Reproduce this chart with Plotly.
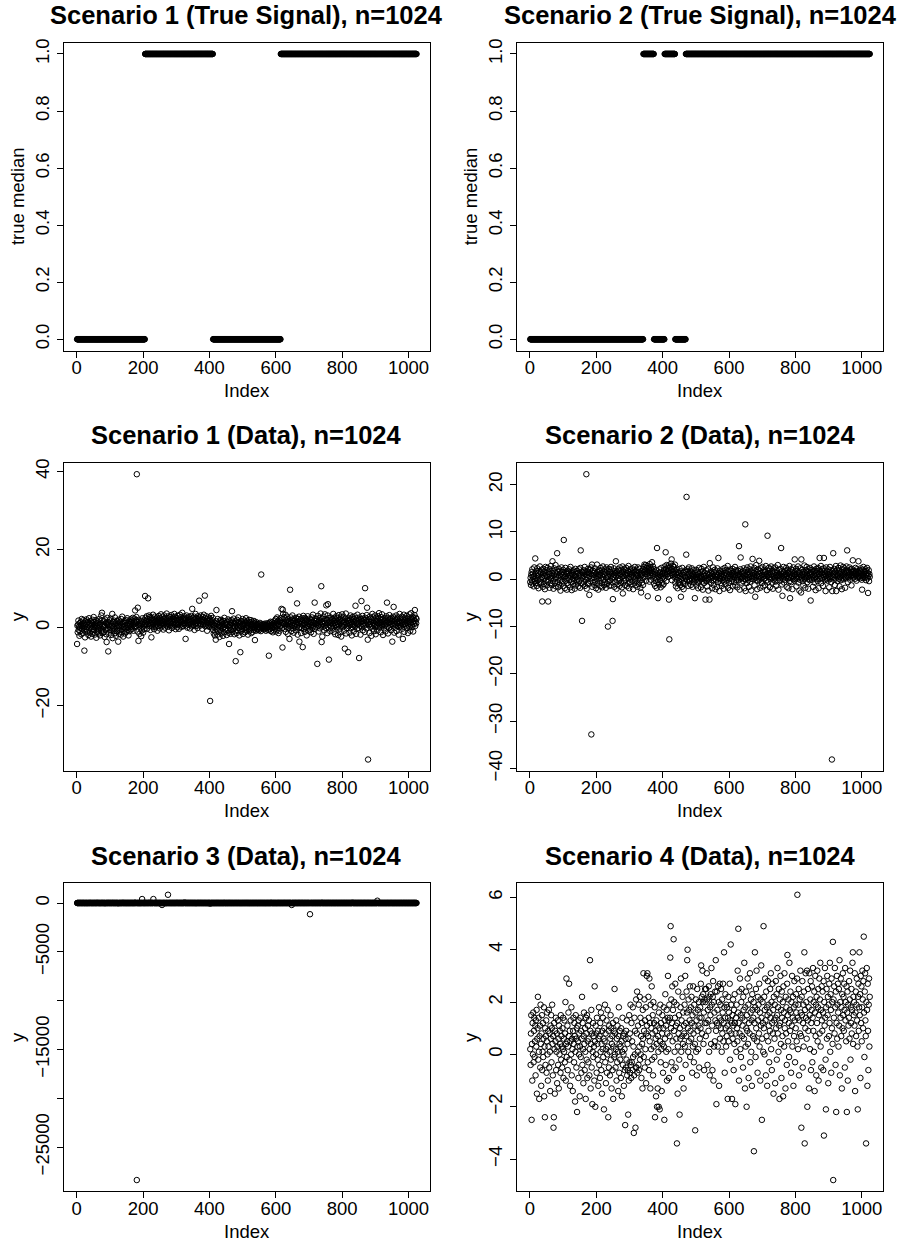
import plotly.graph_objects as go

# 1024 observations per scenario; signals given as run-length segments (level, last index)
n_obs = 1024
signal1_levels = [0, 1, 0, 1]
signal1_ends = [205, 410, 614, 1024]
signal2_levels = [0, 1, 0, 1, 0, 1]
signal2_ends = [341, 373, 405, 437, 469, 1024]

# Scenario 1 data, in tenths
data1_tenths = [
    -42, 5, -12, 8, 18, -6, 3, -21, 11, 0, -9, 14, 6, -17, 22, -3,
    9, -14, 4, 19, -7, 12, -59, 2, -25, 16, 7, -4, 21, -11, 1, 13,
    -8, 15, -19, 6, 24, -2, 10, -13, 3, 17, -23, 8, -5, 12, -16, 20,
    2, -10, 27, -6, 14, -18, 5, 9, -1, 19, -26, 11, 4, -12, 16, -7,
    13, -3, -15, 22, 7, -20, 0, 10, -9, 31, 18, 38, -4, -14, 6, 2,
    -11, 16, 8, -24, 21, 3, -6, 12, -17, -37, 9, 25, -2, 14, -61, 5,
    7, -13, 19, -5, 1, 23, -19, 11, -8, 4, 35, -27, 15, 0, -10, 18,
    -4, 10, 26, -14, 6, -21, 13, 2, -9, 17, -1, 8, -36, 20, -16, 4,
    11, -7, 15, 3, -18, 22, -12, 6, 28, -3, 9, -23, 14, 1, -8, 17,
    -15, 5, 12, -2, 19, -11, 7, 24, -6, 0, 13, -20, 3, 16, -9, 10,
    8, 21, -5, 14, 2, 18, -3, 11, 25, 6, -8, 16, 9, 23, 1, 44,
    12, 19, 4, 27, 393, 15, -10, 51, 7, -34, 20, 3, -16, 9, 13, -2,
    6, -22, 17, 10, -7, 24, 1, -13, 14, 5, -4, 19, 8, 81, 25, 11,
    18, 7, 29, -3, 14, 22, 75, 9, 16, 31, 4, 12, 27, -6, 19, 10,
    -25, 15, 24, 2, 11, 33, 8, 20, -4, 13, 28, 6, 17, 1, 23, 12,
    9, 26, -8, 14, 21, 4, 30, 11, 18, -2, 25, 7, 15, 34, 10, 19,
    3, 16, 28, 12, -5, 22, 8, 31, 14, 0, 19, 25, 6, 13, 36, 9,
    17, 2, 24, 11, 29, -7, 15, 20, 5, 27, 13, 8, 32, 18, -1, 22,
    10, 26, 14, 3, 21, 35, 7, 16, 28, -4, 12, 24, 9, 19, 1, 30,
    15, 8, 23, -3, 18, 11, 33, 6, 20, 14, 27, 2, 16, 38, 10, 22,
    4, 19, 12, 29, 8, 24, 16, -29, 21, 5, 31, 13, 0, 18, 26, 11,
    20, 7, 15, 27, -2, 13, 22, 9, 30, 17, 3, 48, 12, 25, 6, 19,
    14, 28, -6, 21, 10, 35, 16, 4, 24, 12, 19, -1, 29, 8, 17, 23,
    69, 11, 26, 5, 18, 31, 9, 22, 14, -3, 20, 27, 7, 16, 33, 12,
    19, 82, 3, 24, 15, 8, 29, 13, -8, 21, 17, 6, 26, 11, 2, 18,
    23, -188, 14, 7, 30, 16, 1, 19, 10, 25, -6, 8, -15, 3, 12, -20,
    5, -11, -31, 16, 45, -4, 9, -18, 22, 0, -9, 13, 6, -24, 18, 2,
    -7, 11, 20, -15, 4, 14, -2, 8, -21, 17, 1, -12, 25, 7, -5, 10,
    12, -3, 6, -19, 15, 9, -8, 21, 3, -13, -42, 18, 0, 7, -16, 13,
    -6, 10, 19, 42, -11, 4, 15, -2, 23, 8, -17, 12, 1, -9, -86, 16,
    6, -14, 20, 3, -7, 11, 26, -1, 14, -20, 9, 5, -63, 17, -10, 2,
    13, -5, 8, 22, -16, 4, 10, -3, 18, 7, -12, 15, 0, 24, -8, 11,
    -2, 16, 6, -18, 12, 3, 20, -9, 9, 14, -4, 1, 19, -14, 7, 10,
    5, -11, 13, 2, -6, 17, 8, -1, -32, 11, 4, -8, 14, 0, 9, -5,
    6, -3, 10, 2, -7, 8, 1, 12, -4, 5, -9, 136, 3, 7, -2, 9,
    -1, 4, 8, -5, 2, 10, -3, 6, 0, -8, 7, 3, 11, -2, 5, 1,
    -6, 9, -72, 2, 12, -4, 6, 15, -9, 3, 8, -1, 14, 5, -12, 10,
    4, -7, 11, 1, 18, -3, 7, 22, -10, 13, 5, 26, -5, 16, 9, -14,
    8, 20, -8, 14, 3, 17, 24, 6, 48, 12, -1, -51, 46, 35, 9, 27,
    10, -3, 24, 5, 33, -11, 13, 18, 2, 28, 7, -16, 21, 11, -1, 16,
    -29, 9, 97, 3, 26, 14, -9, 20, 6, 31, -2, 12, 17, -13, 23, 8,
    4, 19, 11, -7, 25, 1, 15, 62, 7, -18, 22, 13, -1, 28, -36, 10,
    16, 2, 21, -14, 9, 24, -2, 13, -50, 6, 30, 18, -4, 11, -11, 25,
    7, 22, 0, 14, -20, 19, 4, 29, 10, -8, 17, 3, 23, 8, -5, 15,
    12, -12, 20, 6, 26, -1, 14, 33, 3, -16, 18, 9, 64, -3, 24, 11,
    1, 17, 8, 22, -93, 13, 30, 4, -10, 19, 10, 25, -2, 15, 36, 6,
    106, -37, 14, -23, 23, 9, 2, 28, 17, -7, 12, 34, 5, 21, -1, 57,
    8, 20, -14, 31, 60, 13, 0, -82, 24, 7, 16, -9, 26, 11, 3, 19,
    14, -2, 22, 9, 35, -11, 17, 4, 25, 12, -17, 20, 6, 29, 1, 15,
    10, 24, 3, -19, 18, 32, 7, -3, 21, 13, -12, 26, -23, 16, 5, 34,
    2, 19, 11, 28, -8, 15, 6, -54, 23, 8, 36, -15, 13, -1, 21, 9,
    17, -63, 4, 25, 12, -13, 20, 7, 31, -2, 14, 23, -20, 9, 27, 1,
    6, 22, -10, 15, 10, 29, 3, 56, 18, -16, 12, 24, -3, 33, 8, 16,
    11, -1, -78, 20, 26, 5, -18, 14, 22, 68, 1, 17, 30, -7, 9, 23,
    4, 19, 13, -11, 101, 25, 8, 16, -2, 32, 51, 10, -31, -338, 21, 6,
    15, -14, 28, 9, 2, 23, 14, -21, 20, 5, 35, -3, 12, 26, 7, -9,
    18, 10, 31, 1, -17, 16, 24, 6, 13, -8, 22, 29, 3, 11, 37, 8,
    0, 21, 12, -12, 27, 7, 19, 34, 4, 14, -19, 23, 9, -2, 17, 25,
    6, -10, 20, 11, 29, 15, 64, 3, 24, -15, 13, 18, -1, 32, 8, 22,
    14, 2, -7, 25, 9, 17, -36, 21, 5, 28, 53, 10, -13, 16, 23, 0,
    19, 7, 31, -9, 13, 22, 4, 26, 10, -18, 17, 1, 35, 12, 6, 24,
    3, 18, 11, 28, -3, 15, -29, 21, 7, 33, -11, 14, 25, 9, 20, 5,
    12, 30, -1, 17, 23, -14, 8, 26, 15, 2, 34, 10, -8, 19, 13, 37,
    6, 21, 1, 28, 14, -10, 24, 9, 18, 32, 45, 4, 16, 25, 11, 22,
]

# Scenario 2 data, in tenths
data2_tenths = [
    -6, 3, -12, 9, 15, -3, 21, -9, 5, 12, -15, 7, 25, 0, -4, 44,
    11, -8, 18, 2, -14, 23, 6, -2, 13, -19, 8, 17, -5, 27, 1, -11,
    14, -7, 20, 4, -47, 10, -16, 22, 3, -10, 16, 7, -21, 12, 26, -3,
    8, 19, -13, 5, 24, -6, -47, 15, -1, 11, -18, 21, 6, -9, 28, 2,
    -12, 13, 7, 38, -4, 17, -20, 9, 23, 1, -8, 14, 30, -15, 5, 19,
    10, 55, -6, 16, -17, 3, 22, -11, 8, 18, -2, -24, 12, 6, 25, -9,
    15, -5, 9, 20, -14, 83, 4, 12, -19, 7, 24, -3, 16, 1, -22, 11,
    -8, 18, 3, -12, 14, 21, -1, 8, -17, 26, 6, -6, 13, -23, 10, 17,
    2, -10, 19, 9, -4, 15, -20, 7, 22, -13, 4, 12, -2, 18, -7, 0,
    13, -15, 6, 21, -3, 10, -18, 24, 61, 8, -9, 16, -88, 3, 14, -11,
    7, 19, -6, 12, 26, -14, 4, 17, -1, 222, -20, 9, 15, -8, 22, 3,
    -10, 14, -33, 6, 20, -4, 11, 25, -328, 2, 31, -16, 9, 18, -7, 13,
    4, -12, 16, 23, -5, 8, -19, 12, 1, 31, -9, 15, 6, -22, 19, 10,
    -3, 17, 9, -15, 24, 2, 13, -8, 20, -17, 6, 27, -1, 11, -12, 16,
    8, -6, 21, 14, -18, 3, 25, -10, 10, 18, -100, 5, -4, 22, -14, 12,
    15, -2, 7, 26, -13, 19, 1, -7, -88, -42, 12, 4, 23, -16, 9, 17,
    -5, 13, 38, 6, -20, 16, 10, -11, 21, 2, -3, 18, 8, -14, 25, 0,
    11, -8, 20, 5, -17, 14, 27, -30, 7, 16, -4, 22, 3, -12, 10, 19,
    -1, 24, 9, -15, 13, 6, 18, -9, 28, 2, -19, 15, 11, -6, 21, 4,
    16, -11, 8, 23, -3, 12, -21, 19, 5, 14, -7, 26, 1, -13, 17, 9,
    -4, 20, 12, -16, 7, 25, 3, -10, 15, 22, -2, 10, -18, 6, -28, 13,
    9, -7, 18, 2, -12, 21, 14, 26, 31, 5, 19, 12, 30, -3, 17, 24,
    11, 28, -36, 15, 6, 23, 19, -5, 32, 13, 8, 25, -1, 20, 14, 36,
    18, 7, 27, 12, 22, -9, 4, 16, -14, 10, -3, 19, 2, -18, 66, 8,
    -6, -40, 13, 5, -11, 21, 9, -2, 15, -17, 7, 24, -8, 11, 3, -13,
    6, 14, -10, 19, 2, 27, 13, 8, 57, 21, -4, 30, 16, 11, 24, 5,
    18, 29, -43, -127, 12, 25, 7, 20, 33, 14, 42, -2, 22, 9, 28, 16,
    11, 26, 19, 4, 31, -7, 12, -15, 6, 20, -1, 9, -19, 15, 3, -9,
    13, -5, 22, 7, -12, 17, -37, 1, 10, -16, 24, 4, -8, 14, -21, 8,
    -3, 16, -10, 5, 19, 2, 52, 174, 16, -2, 21, 5, -14, 12, 25, 0,
    10, -4, 18, 3, -12, 14, 7, 23, -1, -16, 11, 4, 19, -7, 8, 1,
    -40, 13, -2, 5, 20, -13, 9, 2, 16, -6, -19, 11, 6, 24, -3, 3,
    15, 0, -17, 8, 22, 4, -5, 17, -22, 10, 1, 26, -8, 6, 13, -1,
    -43, 7, 19, -4, 3, -15, 12, 0, 21, -24, 9, -2, -43, 34, 5, 14,
    2, -7, 17, 8, -19, 11, 4, 25, -3, -12, 15, 1, 20, 6, -21, 10,
    -1, 16, 5, -16, 23, -6, 9, 45, 3, 12, -25, 18, 0, 7, -8, 14,
    6, -14, 11, 21, -2, 4, 17, -20, 9, -5, 24, 2, 14, -11, 8, 19,
    -3, 12, 3, 28, -18, 7, 15, -7, 20, 1, -23, 10, 5, 18, -4, 9,
    13, 0, 22, -15, 6, 16, -6, 11, 4, 26, -13, 8, 19, -1, 14, 2,
    -17, 9, 18, 5, -2, 70, 12, -22, 7, 21, 46, 1, -7, 15, 4, 10,
    3, 17, -4, 23, 8, -19, 14, 0, 116, -25, 20, 6, 11, -8, 25, 2,
    9, -2, 16, -16, 4, 21, 12, -5, 27, 6, -24, 14, 1, 19, 43, 8,
    0, 13, 5, 24, -13, 10, -37, 17, 3, 30, -2, 8, -21, 15, 21, -4,
    12, 4, 39, -1, 18, -18, 7, 23, 2, 14, -8, 9, 26, 5, -15, 16,
    1, 20, 8, -12, 15, 3, 28, -3, 11, -23, 6, 92, 18, -6, 9, 24,
    5, 14, -17, 21, 0, 10, 27, 4, -7, 17, 8, -20, 12, 23, -1, 6,
    16, 2, 25, -5, 9, -14, 19, 5, 13, -2, 30, 7, -22, 11, 20, 3,
    8, -3, 22, 14, 66, 4, 17, -11, -35, 10, 1, 26, 6, -7, 15, 9,
    -1, 18, 5, 24, 11, -16, 7, 20, 2, 13, -19, 16, 4, 28, -4, -40,
    10, 3, 21, -6, 14, 7, -21, 19, 0, 25, 6, 12, -3, 42, 9, 17,
    4, 22, -15, 11, 1, 18, 8, 27, -7, 15, 5, -24, 13, -1, 23, 6,
    -28, 42, 9, 2, 20, -4, 16, -13, 11, 5, 29, 0, 14, -18, 7, 19,
    3, 26, 10, -6, 17, 6, -20, 21, 1, 13, -2, 24, 8, -45, 15, 4,
    12, -1, 20, 7, -16, 16, 2, 27, 9, -7, 18, 5, -23, 14, 22, 0,
    8, 17, -4, 24, 4, -19, 11, 19, 45, 1, 15, 6, 28, -8, 10, 21,
    2, 14, -14, 9, 23, 45, 5, -2, 18, 11, -25, 7, 25, 0, 16, 3,
    10, -3, 21, 6, 15, -17, 4, 26, 1, 12, 19, -6, 8, -381, -25, 17,
    5, 55, 13, -1, 22, 8, -12, 16, 2, 28, -25, 11, 6, 20, -4, 14,
    9, 24, 1, 17, -15, 12, 4, 29, -2, 15, 7, -21, 21, 3, 10, 26,
    0, 16, 8, 23, 12, -18, 5, 19, 2, 27, 14, 61, 6, -6, 18, 9,
    13, 4, 25, 11, -1, 20, 7, 16, -13, 22, 8, 14, 40, 3, 17, 10,
    18, 6, 12, 1, 24, 9, 15, -3, 21, 10, 4, 17, 8, 38, 13, 5,
    11, 19, 2, 16, 23, 7, 14, -1, -22, 20, 9, 3, 26, 12, 6, 17,
    15, 4, 21, 10, -2, 17, 8, 24, 2, 13, -29, 7, 19, -4, 11, 5,
]

# Scenario 3 data, in original units (heavy-tailed)
data3 = [
    0, 2, -1, 1, 3, 0, -2, 1, 0, 4, -1, 2, 1, -3, 0, 1,
    1, -1, 0, 6, 2, -2, 1, 0, -4, 1, 3, 0, -1, 2, 1, -8,
    0, 1, 3, -1, 0, 2, -2, 1, 11, 0, -1, 2, 1, -1, 0, 3,
    -2, 0, 1, 2, -1, 5, 0, 1, -3, 2, 0, -1, 1, 14, -2, 0,
    1, 3, 0, -1, 2, 0, -6, 1, 2, -1, 0, 4, 1, 0, -2, 1,
    0, -1, 2, 1, 0, -18, 1, 3, -1, 0, 2, 1, -2, 0, 7, 1,
    2, 0, -1, 1, 3, 0, 1, -2, 0, 2, -1, 9, 1, 0, -1, 2,
    -1, 1, 0, 2, -3, 1, 0, 4, 1, -1, 0, 2, -25, 1, 0, -1,
    1, 0, 2, -1, 1, 0, 3, -2, 0, 1, 16, 0, -1, 2, 1, 0,
    0, 2, -1, 1, 0, -4, 1, 2, 0, -1, 1, 3, 0, -2, 1, 0,
    1, -1, 0, 5, 2, 0, -1, 1, 0, 2, -3, 1, 0, 1, -1, 31,
    0, 2, -1, 1, -28378, 0, 3, -2, 1, 0, -1, 2, 0, 1, -5, 1,
    0, 1, 2, -1, 405, 0, 1, -2, 3, 1, 0, -1, 2, 0, 1, 2,
    1, 2, 0, 3, 1, -1, 2, 1, 0, 22, 1, 2, -1, 1, 0, 3,
    2, 0, 1, -1, 2, 1, 405, 0, 3, 1, -2, 1, 2, 0, 1, -6,
    1, 3, 0, 2, 1, -1, 2, 0, 1, 4, 1, 0, 2, -1, 1, 2,
    -203, 1, 0, 2, 1, 3, -1, 1, 2, 0, 1, -12, 2, 1, 0, 1,
    2, 0, 845, 1, -1, 2, 1, 0, 3, 1, 2, -1, 1, 0, 2, 1,
    0, 1, 2, -2, 1, 0, 2, 1, -1, 3, 1, 0, 2, 8, 1, 0,
    1, 2, -1, 1, 0, 2, 1, 3, 0, -1, 2, 1, 0, 1, -3, 2,
    2, 1, 0, 1, 47, 2, -1, 1, 0, 2, 1, 3, -1, 0, 1, 2,
    1, 0, 2, -1, 1, 2, 0, 1, 3, -2, 1, 0, 2, 1, -1, 1,
    0, 2, 1, -1, 2, 1, 0, -9, 1, 2, 0, 1, 3, -1, 1, 2,
    1, -1, 2, 0, 1, 3, 1, 0, -2, 1, 2, 0, 1, -1, 2, 0,
    2, 0, 1, -1, 0, 2, 1, -3, 0, 1, 2, -1, 0, 1, 6, 0,
    1, -60, 0, 2, 1, -1, 0, 1, 2, 0, -1, 1, 0, 2, -1, 0,
    0, 1, -2, 1, 0, 3, -1, 0, 2, 1, -1, 0, 1, -4, 2, 0,
    1, 0, -1, 2, 0, 1, -3, 1, 0, 2, -1, 0, 11, 1, -2, 0,
    -1, 0, 1, 2, -1, 0, 1, -2, 0, 1, 3, -1, 0, 1, -1, 2,
    0, 1, -1, 0, 2, 1, -2, 0, 1, -1, 0, 2, 1, -1, 0, 1,
    2, -1, 0, 1, -2, 0, 1, 3, -1, 0, 1, -1, 2, 0, -1, 1,
    0, -1, 2, 0, 1, -1, 0, 1, -2, 0, 1, 2, -1, 0, 1, 0,
    1, 0, -1, 2, 0, -1, 1, 0, -7, 1, 0, 2, -1, 0, 1, -1,
    0, 2, 1, -1, 0, 1, -2, 0, 1, 0, -1, 2, 0, 1, -1, 0,
    -1, 0, 1, 0, 2, -1, 0, 1, -1, 0, 2, 1, -1, 0, 1, 0,
    0, 1, -1, 2, 0, 1, 0, -2, 1, 0, -1, 1, 0, 2, -1, 1,
    1, 0, -1, 0, 2, 1, -1, 0, 1, 15, 0, -1, 1, 0, 2, 0,
    0, 1, 0, -1, 1, 2, 0, -1, 0, 1, -2, 0, 1, 3, 0, 1,
    1, 2, 0, 1, -1, 2, 1, 0, 3, 1, -1, 2, 1, 0, 2, 1,
    2, 1, 0, 3, 1, -1, 2, 1, 0, 2, 1, 4, -1, 1, 2, 0,
    1, 3, 2, 0, 1, 2, -1, -203, 1, 2, 0, 3, 1, -2, 1, 2,
    0, 2, 1, 1, 3, 0, 2, -1, 1, 2, 0, 1, 2, 5, 1, 0,
    2, 1, -1, 2, 0, 1, 3, 1, 0, 2, 1, -3, 1, 2, 0, 1,
    1, 0, 2, 1, -1, 2, 1, 0, 3, 1, 2, 0, -1, 1, -1149, 2,
    0, 1, 2, 3, 1, 0, -1, 2, 1, 0, 2, 1, 4, -1, 1, 2,
    2, 1, 0, 1, 2, -2, 1, 3, 0, 1, 2, 1, 0, -1, 2, 1,
    1, 2, 19, 0, 1, -1, 2, 1, 0, 3, 1, 2, -1, 1, 0, 2,
    0, 1, 2, -1, 1, 3, 0, 2, 1, -1, 2, 0, 1, 2, 1, -4,
    2, 0, 1, 3, -1, 1, 2, 0, 1, 2, -2, 1, 0, 3, 1, 2,
    1, 2, 0, -1, 2, 1, 3, 0, 1, -1, 2, 1, 0, 2, 1, 0,
    1, -1, 2, 1, 0, 3, 1, 2, -2, 1, 0, 2, 1, 1, 0, 2,
    0, 2, 1, -1, 3, 1, 0, 2, 1, 0, -1, 2, 1, 0, 27, 1,
    2, 1, 0, 1, 2, -1, 1, 3, 0, 2, 1, 0, -1, 2, 1, 1,
    1, 0, 2, 1, -1, 2, 0, 1, 3, 1, 0, -2, 2, 1, 0, 1,
    0, 2, 1, 3, 1, 0, 2, -1, 1, 0, 2, 1, 3, 0, 1, 2,
    1, 2, -1, 0, 1, 2, 1, 0, -3, 2, 1, 0, 1, 2, 0, 1,
    2, 0, 1, 2, 1, -1, 0, 2, 1, 236, 0, 1, 2, -1, 1, 0,
    1, 2, 0, 1, -1, 3, 1, 0, 2, 1, 0, -2, 1, 2, 0, 1,
    0, 1, 2, -1, 1, 0, 2, 1, 3, 0, 1, 2, -1, 1, 0, 2,
    1, 0, 3, 1, 2, 0, -1, 1, 2, 0, 1, -1, 2, 1, 0, 1,
    2, 1, 0, 2, -1, 1, 3, 0, 1, 2, 0, 1, -2, 1, 2, 0,
    1, 2, 1, 0, 2, -1, 1, 0, 2, 1, 3, 0, 1, -1, 2, 1,
    0, 1, 2, 1, -1, 0, 2, 1, 0, 3, 1, -1, 2, 0, 1, 2,
    1, 0, 2, -1, 1, 2, 0, 1, 3, 1, 0, 2, -1, 1, 0, 1,
]

# Scenario 4 data, in tenths
data4_tenths = [
    2, -4, 8, 15, -25, 4, -10, 12, 0, 16, -3, 9, 14, -1, 5, 11,
    -8, 13, 3, 17, -15, 6, 10, 22, -2, 14, 1, -17, 7, 11, -5, 19,
    4, -12, 8, 15, -6, 1, 12, -1, 6, 18, -16, 3, -24, 10, -4, 7,
    13, -7, 5, 16, 0, -10, 9, 3, 17, -5, 8, 1, -14, 11, 6, 15,
    -3, 10, 19, 4, -8, 7, -28, -24, 12, 2, -15, 9, 5, 14, -6, 1,
    8, -11, 3, 13, -4, 6, -13, 11, 0, 9, 4, -7, 15, -2, 7, 3,
    -5, 10, 2, 14, -9, 6, 1, 13, -3, 8, 20, -10, 4, 29, -1, 5,
    11, -6, 3, 16, 7, 27, -2, 9, -12, 5, 13, 0, 18, -8, 6, 2,
    -14, 9, 14, 4, -3, 12, 7, -18, 1, 15, 6, -5, 10, -22, 3, 11,
    5, -9, 13, 0, 8, -16, 3, 14, -1, 9, -7, 6, 22, -4, 12, 2,
    -11, 7, 16, 4, -6, 10, 1, -17, 14, 8, -2, 15, -9, 5, 11, -3,
    6, 13, -8, 2, 36, 9, -13, 4, 17, -5, 8, -19, 1, 12, -1, 7,
    3, -10, 26, 5, -20, 11, 0, 8, -7, 14, 4, -2, 9, -12, 6, 18,
    -4, 7, -9, 12, 1, 16, -6, 4, -15, 9, 2, 14, -1, 6, -21, 10,
    5, 19, -3, 8, -11, 2, 13, -7, 0, 17, 3, -24, 9, -5, 11, 1,
    -8, 6, 15, -2, 10, -13, 4, 7, -6, 12, -17, 3, 9, -1, 25, 0,
    8, -5, 2, 13, -10, 6, -3, 11, 1, -14, 7, 18, -7, 4, 9, -2,
    3, -9, 10, 5, -16, 1, 14, -4, 7, 0, -12, 8, 2, -6, -27, 6,
    -5, 9, -2, 13, -8, 4, -6, -23, 6, -10, 15, -3, 8, -7, 19, -4,
    -9, 12, -3, 5, -6, 18, -1, 3, -30, -8, 14, 0, 9, -28, -5, 21,
    -5, 8, 24, -7, 1, 11, -4, 19, -6, 3, 22, -2, 14, 0, 7, -9,
    12, 4, -13, 17, 6, 31, -1, 9, 21, -5, 13, 2, 18, -11, 8, 30,
    11, 31, -3, 7, 22, 14, -6, 29, 5, 12, -13, 19, 2, 10, 26, -2,
    8, 15, -8, 20, 3, 12, -1, 18, -24, 9, 6, -16, 13, 4, -20, 11,
    -13, 7, 1, -20, 16, 10, -21, 5, 19, -3, 12, 2, -14, 8, 15, 4,
    -7, 10, 18, 3, -25, 13, 6, 23, -4, 11, 1, 17, -10, 8, 14, 30,
    2, 13, -9, 19, 7, 14, 37, 49, 10, 21, -3, 12, 26, 5, 17, -6,
    44, 9, 20, 1, 14, 27, -5, 11, 6, 19, -34, 12, -15, 3, 24, 8,
    15, -2, -23, 10, 6, 18, 29, 1, 13, -9, 7, 22, 4, 16, -13, 11,
    8, 19, 3, 30, -4, 12, 7, 24, 16, 36, 40, 10, 1, 21, 5, 17,
    13, 26, -1, 9, 18, 6, 22, 12, -7, 15, 3, 26, 8, -3, 19, 11,
    4, -29, 16, 21, 1, 13, -8, 25, 9, 17, 2, 11, 20, -5, 14, 6,
    18, 10, 27, 34, 14, 22, 8, 32, 20, 23, 4, 16, -6, 21, 12, 25,
    20, 7, 25, 12, 31, 21, -4, 17, 13, 9, 26, 1, 22, -8, 18, 15,
    23, 4, 33, 19, 11, -6, 22, 28, -10, 20, 3, 16, 5, 24, 13, 36,
    9, -19, 24, 12, 17, 3, 26, 11, 20, -12, 14, 27, 6, 19, 10, 25,
    13, 1, 21, 8, 16, 27, 5, 12, 39, 18, -7, 14, 23, 10, 3, 19,
    7, 18, 11, -17, 14, 22, 5, 16, 9, 27, -2, 13, 42, 19, 8, 12,
    -17, 15, 6, 21, 11, -6, 17, 4, 23, 12, -19, 8, 14, 1, 19, 10,
    5, 32, 16, 48, 12, -10, 24, 8, 29, 2, 15, -1, 20, 25, 7, 14,
    11, -5, 22, 17, 6, 35, 13, -13, 18, 3, 24, 10, -20, 15, 9, 29,
    4, 19, -9, 12, 26, 8, 31, -3, 16, 21, 1, 13, -12, 23, 17, 7,
    14, 20, -37, 6, 12, 39, 18, -1, 25, 10, 32, 5, 17, -7, 22, 13,
    19, 8, 27, 3, 16, -10, 21, 11, 34, 14, -25, 6, 20, 12, 1, 49,
    10, 22, 0, 17, 29, 13, -8, 24, 7, 18, -12, 15, 28, 5, 19, 11,
    -3, 16, 9, 25, 14, 31, 2, 20, -6, 12, 27, 8, 17, -15, 22, 13,
    6, 19, -11, 14, 28, 10, 23, -2, 15, 33, 8, 18, 1, 25, 11, -17,
    21, 12, 30, 4, 17, -9, 24, 14, 7, 20, -16, 26, 16, 3, 31, 10,
    13, -13, 22, 8, 18, -4, 27, 38, 15, 5, 21, 12, -1, 35, 17, 9,
    24, 16, -7, 20, 11, 30, 3, 14, 22, -12, 18, 7, 28, 13, -3, 19,
    10, 23, 16, 5, 29, 61, 14, 2, 19, 25, -8, 13, 21, 8, 32, 16,
    7, -28, 22, 15, 28, -5, 12, 19, 3, 24, 39, -34, 17, 10, 31, 14,
    20, 6, 32, -20, 13, 25, 9, 18, -13, 31, 15, 2, 21, 28, -6, 12,
    17, 26, -3, 14, 33, 9, 20, 1, 24, -14, 16, 30, 7, 19, -8, 22,
    12, 32, 5, 18, 25, -10, 15, 29, 8, 21, 35, 3, 17, -5, 26, 13,
    9, 24, 16, -6, 28, -31, 20, 11, 33, 14, -2, -21, 18, 25, 6, 30,
    15, 22, -11, 19, 7, 27, 12, 35, 1, 23, 17, -7, 29, 10, 20, 4,
    43, -48, 21, 14, 26, 8, 33, 18, -4, 24, -22, 12, 30, 6, 19, 27,
    16, 3, 25, 11, 36, -8, 20, 14, 29, 7, 18, -13, 23, 10, 31, 15,
    22, 9, 27, 17, -5, 33, 13, 20, 5, 26, -22, 16, 24, -10, 19, 11,
    14, 28, 6, 21, 32, -2, 18, 12, 25, 8, 17, 35, 39, 4, 22, 15,
    20, 11, 31, -14, 16, 24, 7, 19, 29, 13, 3, -21, 22, 27, 9, 18,
    39, 15, 23, -9, 30, 12, 26, 5, 18, 32, 21, 10, 28, 45, 16, -1,
    24, 31, 13, 7, -34, 20, 33, 17, -12, 27, 9, -6, 19, 29, 3, 22,
]

titles = [
    "Scenario 1 (True Signal), n=1024", "Scenario 2 (True Signal), n=1024",
    "Scenario 1 (Data), n=1024", "Scenario 2 (Data), n=1024",
    "Scenario 3 (Data), n=1024", "Scenario 4 (Data), n=1024",
]
ylabels = ["true median", "true median", "y", "y", "y", "y"]
xticks = [0, 200, 400, 600, 800, 1000]
yticks = [
    [0.0, 0.2, 0.4, 0.6, 0.8, 1.0],
    [0.0, 0.2, 0.4, 0.6, 0.8, 1.0],
    [-20, 0, 20, 40],
    [-40, -30, -20, -10, 0, 10, 20],
    [-25000, -20000, -15000, -10000, -5000, 0],
    [-4, -2, 0, 2, 4, 6],
]
ytick_text = [
    ["0.0", "0.2", "0.4", "0.6", "0.8", "1.0"],
    ["0.0", "0.2", "0.4", "0.6", "0.8", "1.0"],
    ["\u221220", "0", "20", "40"],
    ["\u221240", "\u221230", "\u221220", "\u221210", "0", "10", "20"],
    ["\u221225000", "", "\u221215000", "", "\u22125000", "0"],
    ["\u22124", "\u22122", "0", "2", "4", "6"],
]


def expand(levels, ends):
    out, start = [], 1
    for lev, end in zip(levels, ends):
        out += [lev] * (end - start + 1)
        start = end + 1
    return out


series = [
    expand(signal1_levels, signal1_ends),
    expand(signal2_levels, signal2_ends),
    [v / 10 for v in data1_tenths],
    [v / 10 for v in data2_tenths],
    data3,
    [v / 10 for v in data4_tenths],
]

W, H = 899, 1251
FONT = "Liberation Sans, Arial, Helvetica, sans-serif"
box_left = [63.5, 516.7]
box_top = [39, 464, 889.3]
box_w, box_h = 366.6, 311.6

fig = go.Figure()
annotations = []
layout = {}
for i, ys in enumerate(series):
    r, c = divmod(i, 2)
    k = "" if i == 0 else str(i + 1)
    L, T = box_left[c], box_top[r]
    xs = list(range(1, len(ys) + 1))
    fig.add_trace(go.Scatter(
        x=xs, y=ys, mode="markers", xaxis="x" + k, yaxis="y" + k,
        marker=dict(symbol="circle-open", size=5.5, color="black",
                    line=dict(width=1, color="black")),
        showlegend=False, hoverinfo="skip"))

    lo, hi = min(ys), max(ys)
    pad = 0.04 * (hi - lo)
    xpad = 0.04 * (len(xs) - 1)
    common = dict(showline=True, mirror=True, linecolor="black", linewidth=1,
                  ticks="outside", ticklen=6, tickwidth=1, tickcolor="black",
                  showgrid=False, zeroline=False,
                  tickfont=dict(family=FONT, size=18.5, color="black"))
    layout["xaxis" + k] = dict(
        domain=[L / W, (L + box_w) / W], anchor="y" + k,
        range=[1 - xpad, len(xs) + xpad], tickvals=xticks,
        ticklabelstandoff=-6, **common)
    layout["yaxis" + k] = dict(
        domain=[1 - (T + box_h) / H, 1 - T / H], anchor="x" + k,
        range=[lo - pad, hi + pad], tickvals=yticks[i], ticktext=ytick_text[i],
        tickangle=-90, **common)

    cx = (L + box_w / 2) / W
    annotations.append(dict(
        text="<b>" + titles[i] + "</b>", x=cx, y=1 - (T - 28) / H,
        xref="paper", yref="paper", xanchor="center", yanchor="middle",
        showarrow=False, font=dict(family=FONT, size=25.5, color="black")))
    annotations.append(dict(
        text="Index", x=cx, y=1 - (T + box_h + 40) / H,
        xref="paper", yref="paper", xanchor="center", yanchor="middle",
        showarrow=False, font=dict(family=FONT, size=18.5, color="black")))
    annotations.append(dict(
        text=ylabels[i], x=(L - 46) / W, y=1 - (T + box_h / 2) / H,
        xref="paper", yref="paper", xanchor="center", yanchor="middle",
        textangle=-90, showarrow=False,
        font=dict(family=FONT, size=18.5, color="black")))

fig.update_layout(
    width=W, height=H, autosize=False,
    margin=dict(l=0, r=0, t=0, b=0),
    paper_bgcolor="white", plot_bgcolor="white",
    annotations=annotations, **layout)

# drop the browser's default 8px body margin so the figure fills the window
fig.write_html("out.html", config={"displayModeBar": False},
               post_script="document.body.style.margin = '0';")
